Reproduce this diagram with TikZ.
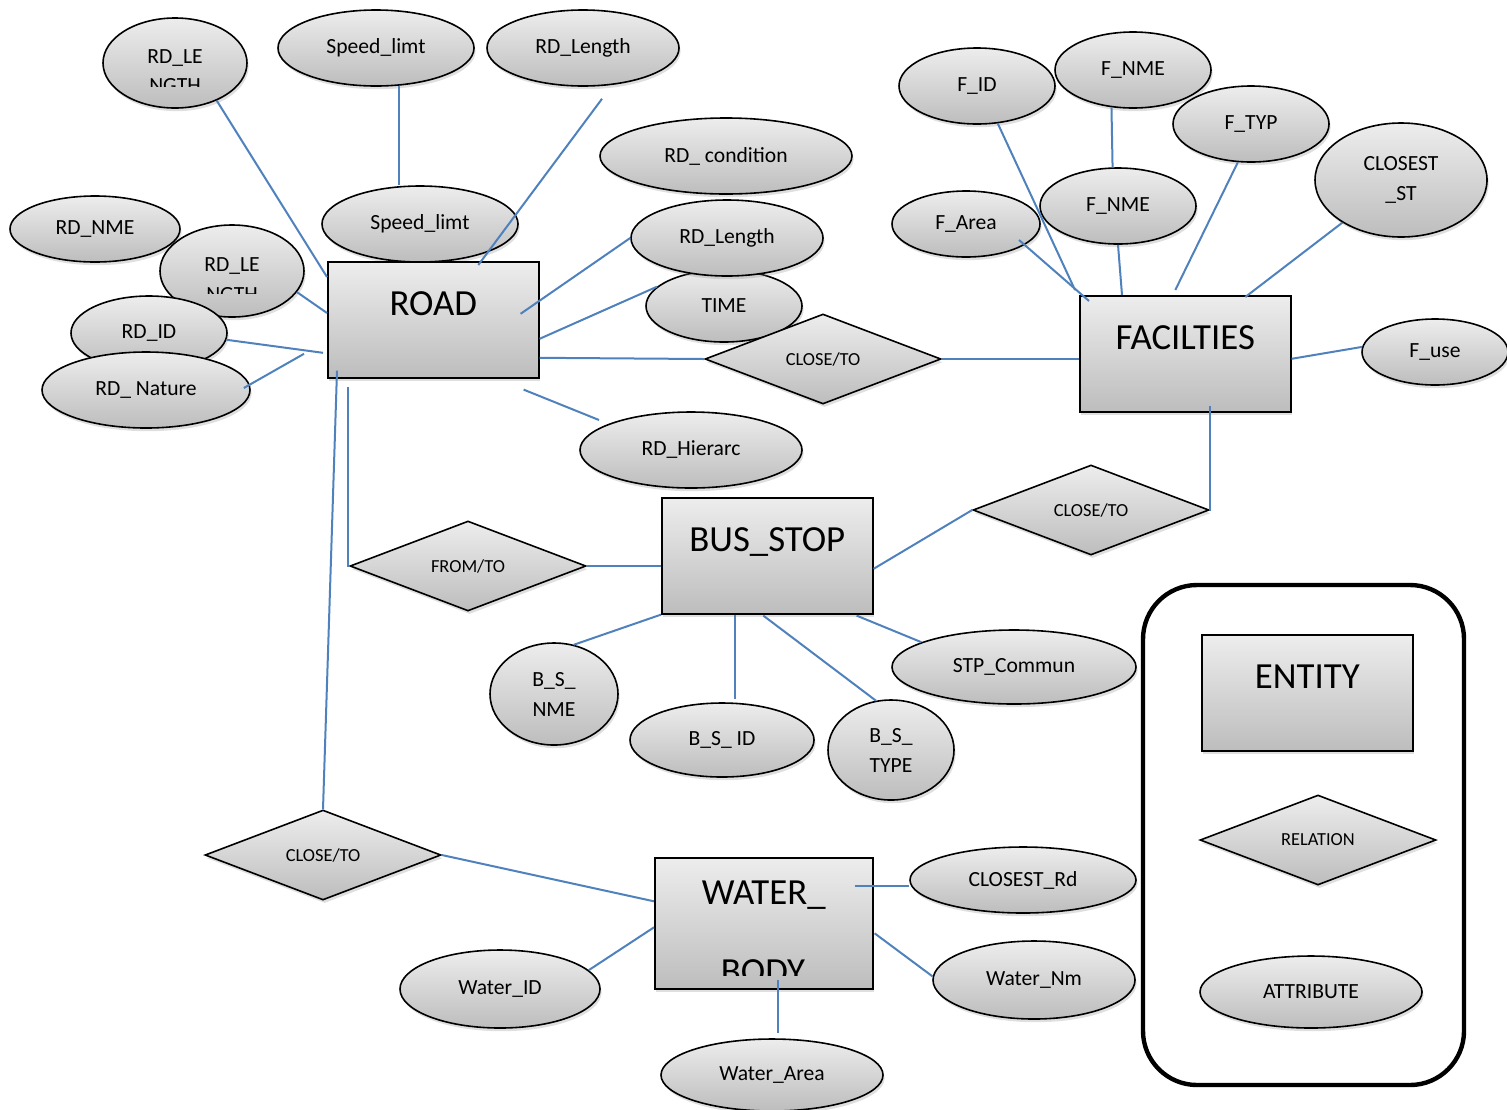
\documentclass[tikz,border=0pt]{standalone}
\usepackage{fontspec}
\setmainfont{Carlito}
\usetikzlibrary{shapes.geometric,shadows,calc}
\definecolor{linkblue}{HTML}{4F81BD}
\definecolor{shadetop}{HTML}{EDEDED}
\definecolor{shadebot}{HTML}{BDBDBD}

\begin{document}
\begin{tikzpicture}[x=0.5pt,y=-0.5pt,
  shaded/.style={draw=black,line width=0.8pt,top color=shadetop,bottom color=shadebot,
    drop shadow={shadow xshift=0.8pt,shadow yshift=-1.6pt,opacity=0.25}},
  entity/.style={shaded,rectangle,anchor=north west,inner sep=0pt,minimum width=105.5pt,
    text height=27pt,text depth=31pt,font=\fontsize{18.4}{22}\selectfont},
  attr/.style={shaded,ellipse,inner sep=0pt,align=center,font=\fontsize{10.8}{15}\selectfont},
  rel/.style={shaded,diamond,inner sep=0pt,aspect=2.6,minimum width=118pt,minimum height=45pt,
    font=\fontsize{9.2}{11}\selectfont},
  link/.style={draw=linkblue,line width=1pt},
  cut/.style={inner sep=0pt,anchor=base,font=\fontsize{10.8}{15}\selectfont}]
  \useasboundingbox (0,0) rectangle (1507,1109);

  \node[attr,minimum width=72pt,minimum height=45pt,text height=7pt,text depth=7pt] (rdleA) at (175,63) {RD\_LE};
  \begin{scope}
    \clip (120,70) rectangle (230,86);
    \node[cut] (rdleAcut) at (175,92) {NGTH};
  \end{scope}
  \node[attr,minimum width=98pt,minimum height=38pt] (spdA) at (376,48) {Speed\_limt};
  \node[attr,minimum width=96pt,minimum height=38pt] (rdlenA) at (583,48) {RD\_Length};
  \node[attr,minimum width=126pt,minimum height=38pt] (rdcond) at (726,156) {RD\_ condition};
  \node[attr,minimum width=85pt,minimum height=33pt] (rdnme) at (95,229) {RD\_NME};
  \node[attr,minimum width=72pt,minimum height=46pt,text height=7pt,text depth=7pt] (rdleB) at (232,271) {RD\_LE};
  \begin{scope}
    \clip (180,279) rectangle (290,293);
    \node[cut] (rdleBcut) at (232,301) {NGTH};
  \end{scope}
  \node[attr,minimum width=78pt,minimum height=37pt] (rdid) at (149,333) {RD\_ID};
  \node[attr,minimum width=104pt,minimum height=38pt] (rdnat) at (146,390) {RD\_ Nature};
  \node[attr,minimum width=98pt,minimum height=38pt] (spdB) at (420,224) {Speed\_limt};
  \node[entity] (road) at (327,261) {ROAD};
  \node[attr,minimum width=78pt,minimum height=36pt] (time) at (724,306) {TIME};
  \node[attr,minimum width=96pt,minimum height=38pt] (rdlenB) at (727,238) {RD\_Length};
  \node[rel] (rel1) at (823,359) {CLOSE/TO};
  \node[attr,minimum width=111pt,minimum height=38pt] (rdhier) at (691,450) {RD\_Hierarc};

  \node[attr,minimum width=78pt,minimum height=38pt] (fid) at (977,86) {F\_ID};
  \node[attr,minimum width=78pt,minimum height=38pt] (fnmeA) at (1133,70) {F\_NME};
  \node[attr,minimum width=78pt,minimum height=38pt] (ftyp) at (1251,124) {F\_TYP};
  \node[attr,minimum width=86pt,minimum height=57pt] (closest) at (1401,180) {CLOSEST\\\_ST};
  \node[attr,minimum width=74pt,minimum height=33pt] (farea) at (966,224) {F\_Area};
  \node[attr,minimum width=78pt,minimum height=38pt] (fnmeB) at (1118,206) {F\_NME};
  \node[entity] (fac) at (1079,295) {FACILTIES};
  \node[attr,minimum width=73pt,minimum height=33pt] (fuse) at (1435,352) {F\_use};
  \node[rel] (relB) at (1091,510) {CLOSE/TO};

  \node[entity] (bus) at (661,497) {BUS\_STOP};
  \node[rel] (fromto) at (468,566) {FROM/TO};
  \node[attr,minimum width=64pt,minimum height=51pt] (bsnme) at (554,694) {B\_S\_\\NME};
  \node[attr,minimum width=92pt,minimum height=37pt] (bsid) at (722,740) {B\_S\_ ID};
  \node[attr,minimum width=63pt,minimum height=50pt] (bstype) at (891,750) {B\_S\_\\TYPE};
  \node[attr,minimum width=122pt,minimum height=37pt] (stp) at (1014,667) {STP\_Commun};

  \node[rel] (relW) at (323,855) {CLOSE/TO};
  \node[entity,minimum width=109pt,text height=23.5pt,text depth=42pt] (water) at (654,857) {WATER\_};
  \begin{scope}
    \clip (660,940) rectangle (866,975);
    \node[cut,font=\fontsize{18.4}{22}\selectfont] (bodycut) at (763,983) {BODY};
  \end{scope}
  \node[attr,minimum width=113pt,minimum height=33pt] (closestrd) at (1023,880) {CLOSEST\_Rd};
  \node[attr,minimum width=101pt,minimum height=39pt] (wnm) at (1034,980) {Water\_Nm};
  \node[attr,minimum width=100pt,minimum height=39pt] (wid) at (500,989) {Water\_ID};
  \node[attr,minimum width=111pt,minimum height=36pt] (warea) at (772,1075) {Water\_Area};

  \draw[line width=2.2pt,rounded corners=27pt] (1143,585) rectangle (1464,1085);
  \node[entity] (entlegend) at (1201,634) {ENTITY};
  \node[rel] (rellegend) at (1318,840) {RELATION};
  \node[attr,minimum width=111pt,minimum height=36pt] (attrlegend) at (1311,992) {ATTRIBUTE};

  \draw[link] (rdleA.-42) -- ($(road.north west)+(0,16)$);
  \draw[link] (spdA.-59) -- (spdA.-59 |- spdB.north);
  \draw[link] ($(rdlenA.south)+(19,12)$) -- ($(road.north)+(45,4)$);
  \draw[link] (rdleB.-18) -- ($(road.north west)+(0,52)$);
  \draw[link] (rdid.-5) -- ($(road.west)+(-4,33)$);
  \draw[link] ($(rdnat.east)+(-7,-2)$) -- ($(road.west)+(-23,34)$);
  \draw[link] ($(road.east)+(-19,-6)$) -- (rdlenB.west);
  \draw[link] ($(road.east)+(0,19)$) -- (time.164);
  \draw[link] ($(road.east)+(0,38)$) -- (rel1.west);
  \draw[link] ($(road.south east)+(-16,11)$) -- ($(rdhier.center)+(-92,-30)$);
  \draw[link] ($(road.south west)+(10,-8)$) -- (relW.north);
  \draw[link] ($(road.south west)+(21,8)$) |- (fromto.west);
  \draw[link] (fromto.east) -- (fromto.east -| bus.west);

  \draw[link] (rel1.east) -- (rel1.east -| fac.west);
  \draw[link] (fid.-61) -- ($(fac.north west)+(-4,-5)$);
  \draw[link] (fnmeA.-120) -- (fnmeB.98);
  \draw[link] (fnmeB.south) -- ($(fac.north west)+(43,0)$);
  \draw[link] ($(farea.center)+(53,16)$) -- ($(fac.north west)+(10,6)$);
  \draw[link] (ftyp.-109) -- ($(fac.north)+(-10,-5)$);
  \draw[link] (closest.-144) -- ($(fac.north)+(60,2)$);
  \draw[link] ($(fac.east)+(0,5)$) -- (fuse.176);
  \draw[link] ($(bus.east)+(0,13)$) -- (relB.west);
  \draw[link] (relB.east) -| ($(fac.south)+(25,-7)$);

  \draw[link] (bus.south west) -- (bsnme.68);
  \draw[link] ($(bus.south west)+(74,0)$) coordinate (bsidtop) -- ($(bsidtop |- bsid.north)+(0,-3)$);
  \draw[link] ($(bus.south)+(-4,1)$) -- (bstype.107);
  \draw[link] ($(bus.south east)+(-17,1)$) -- (stp.165);

  \draw[link] (relW.east) -- ($(water.west)+(0,-22)$);
  \draw[link] ($(water.north east)+(-19,29)$) coordinate (wcl) -- (wcl -| closestrd.west);
  \draw[link] ($(water.east)+(1,10)$) -- (wnm.178);
  \draw[link] ($(water.west)+(0,4)$) -- (wid.12);
  \draw[link] ($(water.south)+(14,-10)$) coordinate (wa) -- ($(wa |- warea.north)+(0,-5)$);
\end{tikzpicture}
\end{document}
